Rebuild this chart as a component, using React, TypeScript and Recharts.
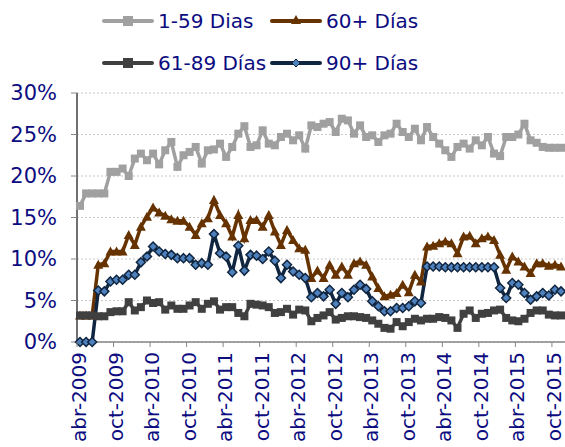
import React from 'react'
import { LineChart, Line, XAxis, YAxis, CartesianGrid } from 'recharts'

// Spanish month abbreviations, series run monthly from abr-2009
const MONTHS = ['ene', 'feb', 'mar', 'abr', 'may', 'jun', 'jul', 'ago', 'sep', 'oct', 'nov', 'dic']
const START_YEAR = 2009
const START_MONTH = 3 // abr
const Y_TICKS = [0, 5, 10, 15, 20, 25, 30]

const dias1a59 = [
  16.4, 17.9, 17.9, 17.9, 17.9, 20.5, 20.5, 20.9, 20.0, 22.1,
  22.7, 21.9, 22.7, 21.4, 23.1, 24.1, 21.1, 22.5, 22.9, 23.5,
  21.5, 23.1, 23.2, 23.9, 22.3, 23.5, 25.1, 26.0, 23.5, 23.7,
  25.5, 23.9, 23.7, 24.7, 25.1, 24.3, 24.9, 23.3, 26.1, 25.9,
  26.3, 26.5, 25.3, 26.9, 26.7, 25.1, 26.1, 24.7, 24.9, 24.1,
  24.9, 25.1, 26.3, 25.3, 24.7, 25.7, 24.3, 25.9, 24.7, 23.9,
  23.1, 22.3, 23.5, 23.9, 23.3, 24.3, 23.7, 24.7, 22.7, 22.4,
  24.7, 24.7, 25.0, 26.3, 24.3, 24.0, 23.5, 23.4, 23.4, 23.4,
]

const dias60mas = [
  3.2, 3.2, 3.2, 9.3, 9.5, 10.9, 10.9, 10.9, 12.9, 11.7,
  13.9, 15.1, 16.2, 15.6, 15.2, 14.8, 14.6, 14.6, 13.9, 12.9,
  14.3, 14.9, 17.1, 15.3, 14.3, 12.7, 15.3, 12.5, 14.7, 14.7,
  13.9, 15.3, 13.3, 11.7, 13.5, 12.3, 11.3, 11.1, 7.7, 8.6,
  7.7, 9.3, 8.1, 9.1, 8.1, 9.5, 9.7, 9.3, 7.9, 6.5,
  5.5, 5.7, 5.9, 6.9, 6.0, 8.1, 7.3, 11.5, 11.6, 11.9,
  12.1, 11.9, 10.7, 12.7, 12.8, 11.9, 12.5, 12.7, 12.3, 10.5,
  8.7, 10.3, 9.7, 9.1, 8.3, 9.5, 9.5, 9.2, 9.3, 9.1,
]

const dias61a89 = [
  3.2, 3.2, 3.2, 3.1, 3.1, 3.6, 3.7, 3.7, 4.8, 3.8,
  4.2, 5.0, 4.7, 4.8, 3.9, 4.4, 4.0, 4.0, 4.4, 4.8,
  4.0, 4.6, 4.9, 3.9, 4.2, 4.2, 3.5, 3.1, 4.6, 4.5,
  4.4, 4.2, 3.5, 3.6, 4.0, 3.3, 3.9, 3.8, 2.5, 2.9,
  3.2, 3.6, 2.7, 2.9, 3.1, 3.1, 3.0, 2.9, 2.6, 2.2,
  1.7, 1.6, 2.4, 1.9, 2.4, 2.8, 2.6, 2.8, 2.8, 3.0,
  2.9, 2.6, 1.7, 3.4, 3.8, 2.9, 3.4, 3.5, 3.8, 3.9,
  2.9, 2.6, 2.5, 2.8, 3.5, 3.8, 3.8, 3.3, 3.2, 3.2,
]

const dias90mas = [
  0, 0, 0, 6.2, 6.1, 7.3, 7.5, 7.5, 8.1, 8.1,
  9.6, 10.3, 11.5, 10.9, 10.6, 10.5, 10.1, 10.1, 10.1, 9.3,
  9.5, 9.3, 13.0, 10.7, 10.3, 8.4, 11.6, 8.6, 10.5, 10.4,
  10.0, 10.9, 9.8, 7.7, 9.3, 8.5, 8.1, 7.7, 5.4, 5.9,
  5.5, 6.3, 4.6, 5.9, 5.4, 6.3, 6.9, 6.4, 4.9, 4.3,
  3.7, 3.7, 4.1, 4.1, 4.3, 4.9, 4.7, 9.1, 9.1, 9.1,
  9.0, 9.0, 9.0, 9.0, 9.0, 9.0, 9.0, 9.0, 9.0, 6.5,
  5.3, 7.1, 6.9, 5.9, 5.1, 5.5, 5.9, 5.6, 6.3, 6.1,
]

const meses = dias1a59.map((_, i) => {
  const m = START_MONTH + i
  return `${MONTHS[m % 12]}-${START_YEAR + Math.floor(m / 12)}`
})

const data = meses.map((mes, i) => ({
  mes,
  a: dias1a59[i],
  b: dias60mas[i],
  c: dias61a89[i],
  d: dias90mas[i],
}))

const NAVY = '#0c0c80'
const FONT = '"DejaVu Sans", Verdana, sans-serif'

const C_1_59 = '#a0a0a0'
const C_60 = '#663300'
const C_61_89 = '#404040'
const C_90 = '#10253f'
const C_90_FILL = '#4f81bd'

const Square = (color: string) => (props: any) => {
  const { cx, cy, index } = props
  if (cx == null || cy == null) return <g key={index} />
  return <rect key={index} x={cx - 4} y={cy - 4} width={8} height={8} fill={color} />
}

const Triangle = (color: string) => (props: any) => {
  const { cx, cy, index } = props
  if (cx == null || cy == null) return <g key={index} />
  return <polygon key={index} points={`${cx},${cy - 5} ${cx - 5},${cy + 4} ${cx + 5},${cy + 4}`} fill={color} />
}

const Diamond = (props: any) => {
  const { cx, cy, index } = props
  if (cx == null || cy == null) return <g key={index} />
  return (
    <polygon
      key={index}
      points={`${cx},${cy - 4.5} ${cx + 4.5},${cy} ${cx},${cy + 4.5} ${cx - 4.5},${cy}`}
      fill={C_90_FILL}
      stroke={C_90}
      strokeWidth={1.5}
    />
  )
}

const XTick = ({ x, y, payload }: any) => (
  <g>
    <line x1={x - 3} x2={x - 3} y1={y} y2={y + 5} stroke="#868686" />
    <text
      transform={`translate(${x + 6},${y + 10}) rotate(-90)`}
      textAnchor="end"
      fill={NAVY}
      fontSize={20}
      fontFamily={FONT}
    >
      {payload.value}
    </text>
  </g>
)

const legendItems = [
  { name: '1-59 Dias', color: C_1_59, marker: 'square' },
  { name: '60+ Días', color: C_60, marker: 'triangle' },
  { name: '61-89 Días', color: C_61_89, marker: 'square' },
  { name: '90+ Días', color: C_90, marker: 'diamond' },
]

const LegendIcon = ({ color, marker }: { color: string; marker: string }) => (
  <svg width={52} height={14} style={{ display: 'block' }}>
    <line x1={2} x2={50} y1={7} y2={7} stroke={color} strokeWidth={4} strokeLinecap="round" />
    {marker === 'square' && <rect x={21} y={2} width={10} height={10} fill={color} />}
    {marker === 'triangle' && <polygon points="26,1 21,10 31,10" fill={color} />}
    {marker === 'diamond' && <polygon points="26,3 30,7 26,11 22,7" fill={C_90_FILL} stroke={C_90} strokeWidth={1} />}
  </svg>
)

export default function App() {
  return (
    <div style={{ position: 'absolute', left: 0, top: 0, width: 565, height: 447, overflow: 'hidden', background: '#fff' }}>
      <div
        style={{
          position: 'absolute',
          left: 102,
          top: 7,
          display: 'grid',
          gridTemplateColumns: '168px 160px',
          rowGap: 14,
          fontFamily: FONT,
          fontSize: 20,
          color: NAVY,
        }}
      >
        {legendItems.map(item => (
          <div key={item.name} style={{ display: 'flex', alignItems: 'center', height: 28 }}>
            <LegendIcon color={item.color} marker={item.marker} />
            <span style={{ marginLeft: 4, whiteSpace: 'nowrap' }}>{item.name}</span>
          </div>
        ))}
      </div>

      <LineChart width={565} height={447} data={data} margin={{ top: 93, right: 0, bottom: 0, left: 0 }}>
        <CartesianGrid vertical={false} strokeDasharray="2 2" stroke="#c8c8c8" />
        <XAxis
          dataKey="mes"
          interval={5}
          height={105}
          padding={{ left: 3, right: 4 }}
          tick={<XTick />}
          tickSize={0}
          tickMargin={0}
          tickLine={false}
          axisLine={{ stroke: '#868686', strokeWidth: 1.5 }}
        />
        <YAxis
          domain={[0, 30]}
          ticks={Y_TICKS}
          width={77}
          tickFormatter={v => `${v}%`}
          tick={{ fill: NAVY, fontSize: 21, fontFamily: FONT }}
          tickSize={6}
          tickMargin={14}
          tickLine={{ stroke: '#868686' }}
          axisLine={{ stroke: '#404040', strokeWidth: 1.5 }}
        />
        <Line dataKey="a" stroke={C_1_59} strokeWidth={3.5} dot={Square(C_1_59)} isAnimationActive={false} />
        <Line dataKey="b" stroke={C_60} strokeWidth={3.5} dot={Triangle(C_60)} isAnimationActive={false} />
        <Line dataKey="c" stroke={C_61_89} strokeWidth={3.5} dot={Square(C_61_89)} isAnimationActive={false} />
        <Line dataKey="d" stroke={C_90} strokeWidth={3.5} dot={Diamond} isAnimationActive={false} />
      </LineChart>
    </div>
  )
}
